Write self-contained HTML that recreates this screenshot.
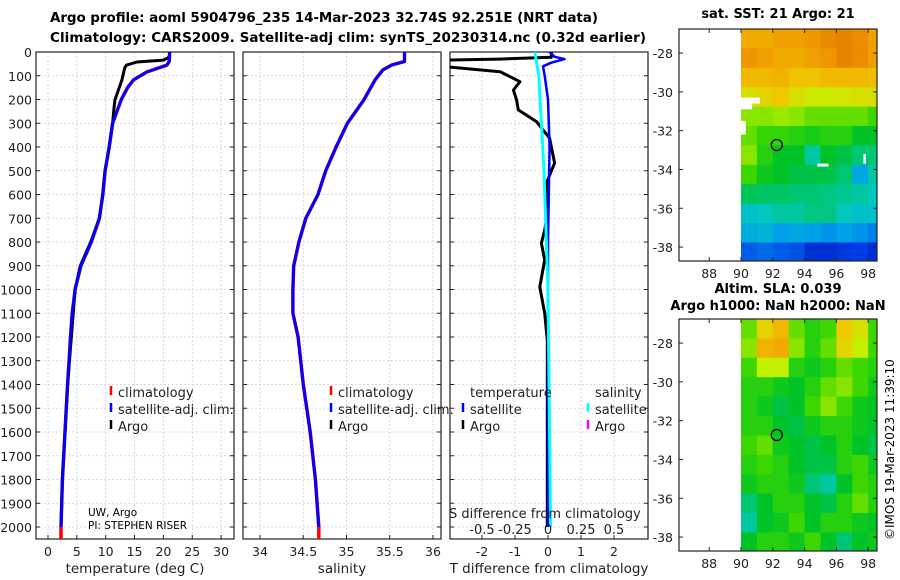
<!DOCTYPE html>
<html><head><meta charset="utf-8"><style>
html,body{margin:0;padding:0;background:#fff}
svg{display:block;font-family:"DejaVu Sans","Liberation Sans",sans-serif}
</style></head><body>
<svg id="c" width="900" height="580" xmlns="http://www.w3.org/2000/svg">
<text x="50" y="22" font-size="13.5" font-weight="bold" textLength="548">Argo profile: aoml 5904796_235 14-Mar-2023 32.74S 92.251E (NRT data)</text>
<text x="50" y="42" font-size="13.5" font-weight="bold" textLength="596">Climatology: CARS2009. Satellite-adj clim: synTS_20230314.nc (0.32d earlier)</text>
<text x="778" y="18" font-size="13" font-weight="bold" text-anchor="middle">sat. SST: 21 Argo: 21</text>
<text x="778" y="293" font-size="13" font-weight="bold" text-anchor="middle">Altim. SLA: 0.039</text>
<text x="778" y="310" font-size="13" font-weight="bold" text-anchor="middle">Argo h1000: NaN h2000: NaN</text>
<text transform="translate(894,540) rotate(-90)" font-size="12">©IMOS 19-Mar-2023 11:39:10</text>
</svg>
<script>
// ---- data ----
const depthTicks=[0,100,200,300,400,500,600,700,800,900,1000,1100,1200,1300,1400,1500,1600,1700,1800,1900,2000];
const tempTicks=[0,5,10,15,20,25,30];
const salTicks=[34,34.5,35,35.5,36];
const tdiffTicks=[-2,-1,0,1,2];
const sdiffTickLabels=["-0.5","-0.25","0","0.25","0.5"];
const climDepth=[0,40,55,84,118,150,200,300,400,500,600,700,800,900,1000,1100,1200,1400,1600,1800,2000,2055];
const climTemp=[21.1,21.0,20.6,17.1,14.8,13.8,12.7,11.2,10.6,9.9,9.5,8.9,7.5,5.7,4.7,4.2,3.9,3.4,2.95,2.5,2.25,2.25];
const salDepth=[0,40,55,76,118,202,300,400,500,600,700,800,900,1000,1100,1200,1400,1600,1800,2000,2055];
const climSal=[35.67,35.67,35.52,35.42,35.33,35.2,35.01,34.88,34.76,34.67,34.53,34.45,34.39,34.38,34.38,34.44,34.5,34.58,34.64,34.68,34.68];
const argoDepth=[0,22,34,42,55,67,118,202,244,300,400,500,600,700,800,850,900,1000,1400,1800,2000];
const argoTemp=[21.1,21.0,20.0,15.4,13.6,13.3,12.8,11.6,11.4,11.2,10.6,9.9,9.5,8.9,7.4,6.5,5.6,4.7,3.4,2.5,2.25];
const tdDepth=[0,22,30,34,62,83,125,160,202,244,293,363,468,552,707,749,805,875,989,1100,1213,1600,2000];
const tdArgo=[0.1,0.1,-1.5,-3.1,-3.1,-1.45,-0.85,-1.05,-0.95,-0.9,-0.35,0.05,0.2,-0.05,-0.05,-0.1,-0.2,-0.1,-0.25,-0.1,-0.02,-0.02,-0.02];
const tdSatDepth=[0,20,30,45,60,100,200,400,800,1200,2000];
const tdSat=[0.05,0.2,0.5,0.1,-0.15,-0.1,0,0.05,0,0,0];
const sdSatDepth=[0,100,500,1000,2000];
const sdSat=[-0.1,-0.07,-0.03,0,0.02];
const mapLatTicks=[-28,-30,-32,-34,-36,-38];
const mapLonTicks=[88,90,92,94,96,98];
const argoLon=92.25, argoLat=-32.74;
const sstGrid=[
[0.78,0.78,0.8,0.8,0.82,0.85,0.86,0.84,0.8],
[0.82,0.8,0.78,0.78,0.8,0.82,0.86,0.84,0.8],
[0.75,0.75,0.76,0.73,0.73,0.75,0.75,0.75,0.74],
[0.68,0.7,0.72,0.68,0.66,0.66,0.67,0.68,0.68],
[0.62,0.62,0.63,0.62,0.6,0.6,0.6,0.6,0.58],
[0.6,0.57,0.57,0.55,0.53,0.55,0.55,0.5,0.5],
[0.62,0.55,0.5,0.5,0.42,0.5,0.48,0.45,0.45],
[0.58,0.52,0.5,0.48,0.48,0.48,0.45,0.32,0.42],
[0.47,0.46,0.46,0.45,0.45,0.44,0.43,0.42,0.4],
[0.38,0.4,0.42,0.42,0.44,0.44,0.4,0.38,0.38],
[0.33,0.35,0.3,0.32,0.3,0.28,0.3,0.28,0.25],
[0.2,0.22,0.2,0.18,0.12,0.12,0.14,0.15,0.12],
[0.08,0.12,0.12,0.1,0.08,0.08,0.1,0.1,0.08]];
const slaGrid=[
[0.6,0.7,0.75,0.6,0.55,0.58,0.72,0.68,0.58],
[0.62,0.76,0.78,0.62,0.55,0.6,0.7,0.65,0.58],
[0.58,0.65,0.65,0.55,0.52,0.55,0.6,0.58,0.55],
[0.55,0.55,0.52,0.5,0.55,0.6,0.62,0.58,0.52],
[0.55,0.52,0.48,0.5,0.58,0.62,0.58,0.52,0.5],
[0.55,0.55,0.5,0.48,0.52,0.55,0.55,0.52,0.5],
[0.58,0.6,0.52,0.5,0.48,0.5,0.55,0.5,0.48],
[0.55,0.58,0.55,0.5,0.48,0.48,0.55,0.58,0.52],
[0.52,0.55,0.55,0.52,0.45,0.42,0.5,0.58,0.55],
[0.45,0.5,0.55,0.55,0.5,0.48,0.55,0.6,0.55],
[0.42,0.5,0.52,0.58,0.5,0.55,0.55,0.52,0.5],
[0.5,0.55,0.55,0.52,0.58,0.5,0.45,0.5,0.52],
[0.5,0.52,0.55,0.52,0.55,0.5,0.45,0.5,0.52]];
// ---- drawing ----
const svg=document.getElementById('c');
const NS='http://www.w3.org/2000/svg';
function mk(tag,attrs,parent){const e=document.createElementNS(NS,tag);for(const k in attrs)e.setAttribute(k,attrs[k]);(parent||svg).appendChild(e);return e;}
const yTop=52, yBot=539;
const yD=d=>yTop+d*0.2375;
const panels=[
 {x0:36,x1:234,sx:v=>48+v*5.77,ticks:tempTicks,lbl:"temperature (deg C)",name:"temperature-panel"},
 {x0:243,x1:441,sx:v=>260+(v-34)*86.5,ticks:salTicks,lbl:"salinity",name:"salinity-panel"},
 {x0:450,x1:648,sx:v=>548+v*33,ticks:tdiffTicks,lbl:"T difference from climatology",name:"difference-panel"}];
const sdx=v=>548+v*132;
const defs=mk('defs',{});
panels.forEach((p,i)=>{
 const g=mk('g',{});
 
 
 depthTicks.forEach(d=>{const l=mk('line',{x1:p.x0,x2:p.x1,y1:yD(d),y2:yD(d),stroke:'#c8cde8','stroke-width':0.8,'stroke-dasharray':'2,2'},g);
  
  
  mk('line',{x1:p.x0,x2:p.x0+4,y1:yD(d),y2:yD(d),stroke:'#222'},g);mk('line',{x1:p.x1-4,x2:p.x1,y1:yD(d),y2:yD(d),stroke:'#222'},g);});
 p.ticks.forEach(t=>{const x=p.sx(t);const l=mk('line',{x1:x,x2:x,y1:yTop,y2:yBot,stroke:'#c8cde8','stroke-width':0.8,'stroke-dasharray':'2,2'},g);
  
  
  mk('line',{x1:x,x2:x,y1:yBot,y2:yBot-4,stroke:'#222'},g);
  const tx=mk('text',{x:x,y:556,'font-size':12.5,'text-anchor':'middle',fill:'#222'},g);tx.textContent=t;
  
  });
 const r=mk('rect',{x:p.x0,y:yTop,width:p.x1-p.x0,height:yBot-yTop,fill:'none',stroke:'#222','stroke-width':1.2},g);
 
 
 const xl=mk('text',{x:(p.x0+p.x1)/2,y:573,'font-size':13.5,'text-anchor':'middle',fill:'#222'},g);xl.textContent=p.lbl;
 
 
 const cp=mk('clipPath',{id:'cp'+i},defs);mk('rect',{x:p.x0,y:yTop,width:p.x1-p.x0,height:yBot-yTop},cp);
});
depthTicks.forEach(d=>{const t=mk('text',{x:32,y:yD(d)+5,'font-size':12.5,'text-anchor':'end',fill:'#222'});t.textContent=d;
 
 });
function line(xs,ds,sx,color,w,name,ci){const pts=xs.map((v,i)=>sx(v).toFixed(1)+','+yD(ds[i]).toFixed(1)).join(' ');
 const e=mk('polyline',{points:pts,fill:'none',stroke:color,'stroke-width':w,'stroke-linejoin':'round','clip-path':'url(#cp'+ci+')'});
 
 
 return e;}
const P=panels;
line(climTemp,climDepth,P[0].sx,'#f00',3.5,'temperature-climatology-line',0);
line(argoTemp,argoDepth,P[0].sx,'#000',3,'temperature-argo-line',0);
line(climTemp.slice(0,-1),climDepth.slice(0,-1),P[0].sx,'#00f',3,'temperature-satellite-clim-line',0);
line(climSal,salDepth,P[1].sx,'#f00',3.5,'salinity-climatology-line',1);
line(climSal.slice(0,-1),salDepth.slice(0,-1),P[1].sx,'#00f',3,'salinity-satellite-clim-line',1);
line(tdArgo,tdDepth,P[2].sx,'#000',3,'t-diff-argo-line',2);
line(tdSat,tdSatDepth,P[2].sx,'#00f',2.5,'t-diff-satellite-line',2);
line(sdSat,sdSatDepth,sdx,'#0ff',3,'s-diff-satellite-line',2);
function leg(x,y,color,txt,name){const m=mk('line',{x1:x,x2:x,y1:y-11,y2:y-2,stroke:color,'stroke-width':2.5});
 
 
 const t=mk('text',{x:x+7,y:y,'font-size':13,fill:'#222'});t.textContent=txt;
 
 }
leg(111,397,'#f00','climatology','legend-climatology');leg(111,414,'#00f','satellite-adj. clim.','legend-satellite-clim');leg(111,431,'#000','Argo','legend-argo');
leg(331,397,'#f00','climatology','legend-sal-climatology');leg(331,414,'#00f','satellite-adj. clim.','legend-sal-satellite-clim');leg(331,431,'#000','Argo','legend-sal-argo');
leg(463,414,'#00f','satellite','legend-t-satellite');leg(463,431,'#000','Argo','legend-t-argo');
leg(588,414,'#0ff','satellite','legend-s-satellite');leg(588,431,'#f0f','Argo','legend-s-argo');
[[470,397,'temperature','legend-temperature-heading'],[595,397,'salinity','legend-salinity-heading'],[449,518,'S difference from climatology','s-diff-axis-title']].forEach(a=>{const t=mk('text',{x:a[0],y:a[1],'font-size':13,fill:'#222'});t.textContent=a[2];
 
 });
sdiffTickLabels.forEach(s=>{const t=mk('text',{x:sdx(parseFloat(s)),y:534,'font-size':13,'text-anchor':'middle',fill:'#222'});t.textContent=s;
 
 });
[[88,516,'UW, Argo'],[88,529,'PI: STEPHEN RISER']].forEach(a=>{const t=mk('text',{x:a[0],y:a[1],'font-size':10.5,fill:'#000'});t.textContent=a[2];
 
 });
const stops=[[0,[0,0,140]],[0.15,[0,60,230]],[0.3,[0,160,235]],[0.4,[0,200,190]],[0.5,[0,195,40]],[0.58,[60,215,0]],[0.65,[195,240,0]],[0.72,[240,200,0]],[0.82,[240,150,0]],[0.92,[215,105,0]]];
function cmap(v){for(let i=1;i<stops.length;i++){if(v<=stops[i][0]){const a=stops[i-1],b=stops[i],f=(v-a[0])/(b[0]-a[0]);return 'rgb('+a[1].map((c,k)=>Math.round(c+(b[1][k]-c)*f)).join(',')+')';}}return 'rgb(215,105,0)';}
function drawMap(y0,grid,name,whites){
 const x0=679,x1=877,lx=lon=>741+(lon-90)*15.9,ly=lat=>y0+(-26.76-lat)*19.4,y1=y0+232;
 const g=mk('g',{});
 
 
 const cp=mk('clipPath',{id:'cl'+name},defs);mk('rect',{x:x0,y:y0,width:x1-x0,height:y1-y0},cp);
 const cg=mk('g',{'clip-path':'url(#cl'+name+')'},g);
 grid.forEach((row,r)=>row.forEach((v,c)=>{const x=lx(90+c),y=ly(-26.76-r);
  const e=mk('rect',{x:x,y:y,width:lx(91+c)-x+0.5,height:ly(-27.76-r)-y+0.5,fill:cmap(v)},cg);
  
  }));
 whites.forEach(w=>mk('rect',{x:lx(w[0]),y:ly(w[1]),width:w[2]*15.9,height:w[3]*19.4,fill:'#fff'},cg));
 mk('rect',{x:x0,y:y0,width:x1-x0,height:y1-y0,fill:'none',stroke:'#222','stroke-width':1.2},g);
 mapLatTicks.forEach(t=>{const y=ly(t);mk('line',{x1:x0,x2:x0+4,y1:y,y2:y,stroke:'#222'},g);mk('line',{x1:x1-4,x2:x1,y1:y,y2:y,stroke:'#222'},g);
  const tx=mk('text',{x:673,y:y+5,'font-size':12.5,'text-anchor':'end',fill:'#222'},g);tx.textContent=t;
  
  });
 mapLonTicks.forEach(t=>{const x=lx(t);mk('line',{x1:x,x2:x,y1:y1,y2:y1-4,stroke:'#222'},g);mk('line',{x1:x,x2:x,y1:y0,y2:y0+4,stroke:'#222'},g);
  const tx=mk('text',{x:x,y:y1+17,'font-size':12.5,'text-anchor':'middle',fill:'#222'},g);tx.textContent=t;
  
  });
 const c=mk('circle',{cx:lx(argoLon),cy:ly(argoLat),r:5.5,fill:'none',stroke:'#000','stroke-width':1.3},g);
 
 
}
drawMap(29,sstGrid,'sst-map',[[90,-30.3,1.2,0.3],[90,-30.3,0.7,0.6],[90,-31.5,0.3,0.7],[94.8,-33.7,0.7,0.15],[97.7,-33.2,0.15,0.5]]);
drawMap(319,slaGrid,'sla-map',[]);
</script>
</body></html>
